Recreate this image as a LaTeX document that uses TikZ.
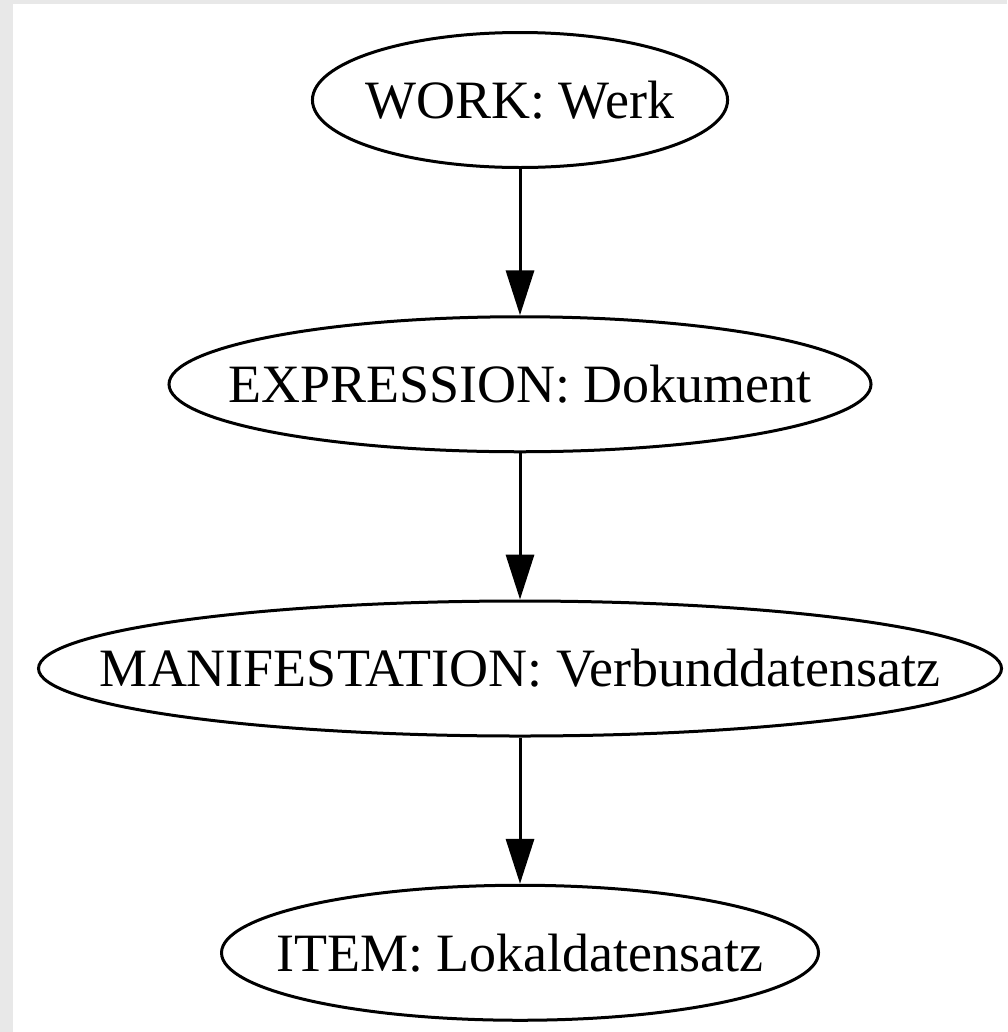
\documentclass[tikz,border=0pt]{standalone}
\usepackage{fontspec}
\setmainfont{Liberation Serif}
\usetikzlibrary{shapes.geometric,positioning,arrows.meta}
\definecolor{pagegray}{RGB}{232,232,232}
% label that does not widen its ellipse
\newcommand{\entitylabel}[1]{\makebox[0pt]{#1}}

\begin{document}
\begin{tikzpicture}[
    font = \fontsize{14.4}{16}\selectfont,
    entity/.style = {draw, ellipse, line width=0.8pt, inner sep=0pt,
      minimum height=36pt},
    realize/.style = {-{Triangle[length=12pt,width=7.5pt]}, line width=0.8pt},
    node distance = 39pt
  ]
  % page background
  \fill[pagegray] (-138.67pt,26.67pt) rectangle (129.87pt,-248.53pt);
  \fill[white] (-135.28pt,25.6pt) rectangle (129.87pt,-248.53pt);
  \useasboundingbox (-138.67pt,26.67pt) rectangle (129.87pt,-248.53pt);

  \node [entity, minimum width=110.7pt] (work) {\entitylabel{WORK: Werk}};
  \node [entity, minimum width=187.2pt, below=of work] (expression)
    {\entitylabel{EXPRESSION: Dokument}};
  \node [entity, minimum width=256.8pt, below=of expression] (manifestation)
    {\entitylabel{MANIFESTATION: Verbunddatensatz}};
  \node [entity, minimum width=159.2pt, below=of manifestation] (item)
    {\entitylabel{ITEM: Lokaldatensatz}};

  \draw [realize] (work) -- (expression);
  \draw [realize] (expression) -- (manifestation);
  \draw [realize] (manifestation) -- (item);
\end{tikzpicture}
\end{document}
